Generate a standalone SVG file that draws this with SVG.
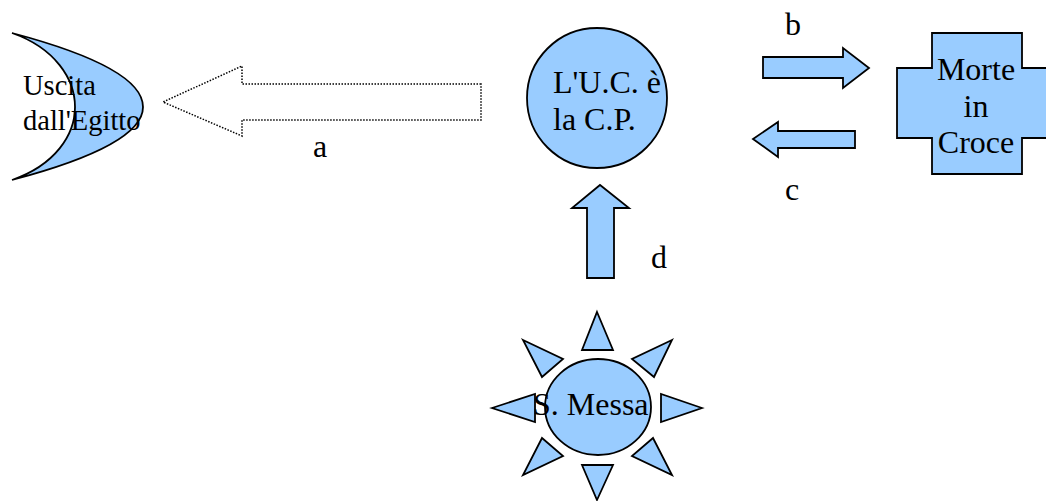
<svg xmlns="http://www.w3.org/2000/svg" width="1046" height="501" viewBox="0 0 1046 501">
<style>
.s{fill:#99ccff;stroke:#000;stroke-width:1.8;stroke-linejoin:miter}
.t{font-family:'Liberation Serif','DejaVu Serif',serif;font-size:32px;fill:#000}
.ts{font-family:'Liberation Serif','DejaVu Serif',serif;font-size:28.5px;fill:#000}
</style>
<rect width="1046" height="501" fill="#fff"/>
<g id="egitto">
<path class="s" d="M12,33 C95,55 143,80 143,107 C143,134 95,158 12,180 C55,165 75,135 75,107 C75,79 55,48 12,33 Z"/>
<text class="ts" x="23" y="95">Uscita</text>
<text class="ts" x="23" y="130">dall'Egitto</text>
</g>
<g id="uc">
<ellipse class="s" cx="597" cy="98" rx="70" ry="70"/>
<text class="t" x="553" y="93">L'U.C. è</text>
<text class="t" x="553" y="130">la C.P.</text>
</g>
<g id="croce">
<path class="s" d="M932,33 H1022 V68 H1057 V138 H1022 V174 H932 V138 H897 V68 H932 Z"/>
<text class="t" x="976" y="80" text-anchor="middle">Morte</text>
<text class="t" x="976" y="117" text-anchor="middle">in</text>
<text class="t" x="976" y="153" text-anchor="middle">Croce</text>
</g>
<g id="messa">
<g class="s">
<polygon points="597,312 613,350 582,350"/>
<polygon points="597,500 613,465 582,465"/>
<polygon points="492,408 535,394 535,422"/>
<polygon points="702,408 661,394 661,422"/>
<polygon points="523,340 563,359 542,377"/>
<polygon points="672,340 632,359 654,377"/>
<polygon points="542,438 563,456 523,475"/>
<polygon points="653,438 632,456 672,475"/>
<ellipse cx="598" cy="407" rx="53" ry="48"/>
</g>
<text class="t" x="533" y="415">S. Messa</text>
</g>
<g id="connectors">
<polygon points="481,84 242,84 242,66 163,102 242,136 242,120 481,120" fill="#fff" stroke="#000" stroke-width="1.5" stroke-dasharray="1.5 1.5"/>
<polygon class="s" points="763,57 843,57 843,48 869,68 843,88 843,78 763,78"/>
<polygon class="s" points="855,131 778,131 778,122 753,139 778,157 778,148 855,148"/>
<polygon class="s" points="587,278 587,208 572,208 600,185 629,208 614,208 614,278"/>
<text class="t" x="313" y="157">a</text>
<text class="t" x="785" y="35">b</text>
<text class="t" x="785" y="200">c</text>
<text class="t" x="651" y="268">d</text>
</g>
</svg>
